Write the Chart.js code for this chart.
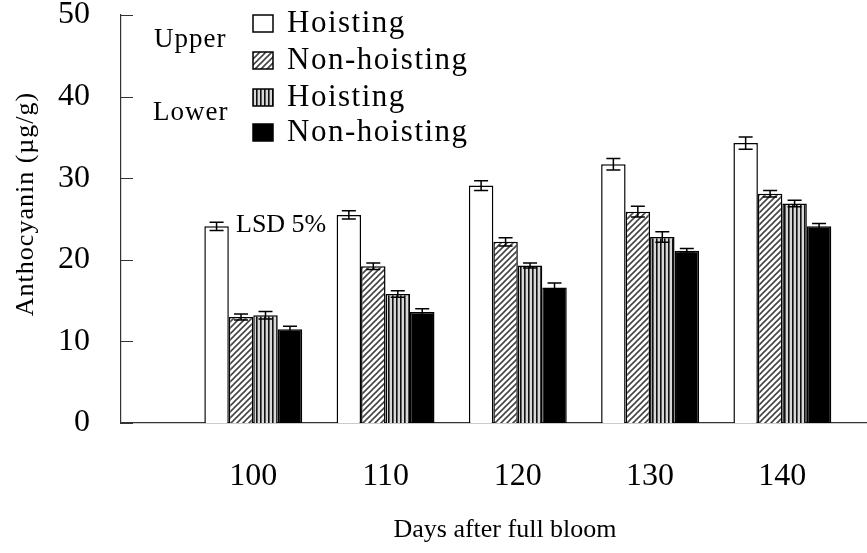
<!DOCTYPE html>
<html>
<head>
<meta charset="utf-8">
<title>Anthocyanin</title>
<script src="https://cdn.jsdelivr.net/npm/chart.js@4.4.0/dist/chart.umd.min.js"></script>
<style>
    html, body { margin: 0; padding: 0; background: #fff; }
    #chart { display: block; }
</style>
</head>
<body>
<canvas id="chart" width="867" height="553"></canvas>
<script>
// Дані
const days = [100, 110, 120, 130, 140];

const upperHoist = [24.1, 25.5, 29.1, 31.7, 34.3];
const upperNon = [13.0, 19.2, 22.2, 25.9, 28.1];
const lowerHoist = [13.2, 15.8, 19.3, 22.8, 26.9];
const lowerNon = [11.5, 13.6, 16.6, 21.1, 24.1];

// LSD 5% (половина довжини планки)
const upperHoistErr = [0.5, 0.5, 0.6, 0.7, 0.75];
const upperNonErr = [0.37, 0.4, 0.5, 0.65, 0.4];
const lowerHoistErr = [0.45, 0.4, 0.3, 0.65, 0.4];
const lowerNonErr = [0.35, 0.4, 0.55, 0.3, 0.35];

const yTicks = [0, 10, 20, 30, 40, 50];
const seriesNames = ['Hoisting', 'Non-hoisting', 'Hoisting', 'Non-hoisting'];
const groupNames = ['Upper', 'Lower'];

const SERIF = '"Liberation Serif", "DejaVu Serif", serif';

document.addEventListener('DOMContentLoaded', () => {
    const ctx = document.getElementById('chart').getContext('2d');

    function makeHatch() {
        const c = document.createElement('canvas');
        c.width = 6; c.height = 6;
        const g = c.getContext('2d');
        g.fillStyle = '#fff';
        g.fillRect(0, 0, 6, 6);
        g.strokeStyle = '#444';
        g.lineWidth = 1.6;
        g.beginPath();
        g.moveTo(-1, 7); g.lineTo(7, -1);
        g.moveTo(-1, 1); g.lineTo(1, -1);
        g.moveTo(5, 7); g.lineTo(7, 5);
        g.stroke();
        return ctx.createPattern(c, 'repeat');
    }

    function makeStripes() {
        const c = document.createElement('canvas');
        c.width = 4; c.height = 4;
        const g = c.getContext('2d');
        g.fillStyle = '#d8d8d8';
        g.fillRect(0, 0, 4, 4);
        g.fillStyle = '#111';
        g.fillRect(0, 0, 1.6, 4);
        return ctx.createPattern(c, 'repeat');
    }

    const hatch = makeHatch();
    const stripes = makeStripes();
    const fills = ['#fff', hatch, stripes, '#000'];
    const allValues = [upperHoist, upperNon, lowerHoist, lowerNon];
    const allErrors = [upperHoistErr, upperNonErr, lowerHoistErr, lowerNonErr];

    const datasets = allValues.map((vals, i) => ({
        label: seriesNames[i],
        data: days.map((d, j) => ({ x: d, y: vals[j] })),
        backgroundColor: fills[i],
        borderColor: '#000',
        borderWidth: 1.5,
        categoryPercentage: 0.74,
        barPercentage: 1.0,
        errors: allErrors[i]
    }));

    // планки похибок
    const errorBars = {
        id: 'errorBars',
        afterDatasetsDraw(chart) {
            const c = chart.ctx;
            const y = chart.scales.y;
            c.save();
            c.strokeStyle = '#000';
            c.lineWidth = 1.5;
            chart.data.datasets.forEach((ds, i) => {
                const meta = chart.getDatasetMeta(i);
                meta.data.forEach((bar, j) => {
                    const v = ds.data[j].y;
                    const e = ds.errors[j];
                    const top = y.getPixelForValue(v + e);
                    const bot = y.getPixelForValue(v - e);
                    const cap = 7;
                    c.beginPath();
                    c.moveTo(bar.x, top); c.lineTo(bar.x, bot);
                    c.moveTo(bar.x - cap, top); c.lineTo(bar.x + cap, top);
                    c.moveTo(bar.x - cap, bot); c.lineTo(bar.x + cap, bot);
                    c.stroke();
                });
            });
            c.restore();
        }
    };

    // підписи, легенда, внутрішні штрихи осі
    const decorations = {
        id: 'decorations',
        afterDraw(chart) {
            const c = chart.ctx;
            const area = chart.chartArea;
            const y = chart.scales.y;
            c.save();

            c.strokeStyle = '#333';
            c.lineWidth = 1.2;
            c.beginPath();
            yTicks.forEach(t => {
                const py = Math.round(y.getPixelForValue(t)) + 0.5;
                c.moveTo(area.left, py);
                c.lineTo(area.left + 12, py);
            });
            c.stroke();

            c.fillStyle = '#000';
            c.textBaseline = 'middle';

            // назва осі X
            c.font = '26px ' + SERIF;
            c.textAlign = 'center';
            c.fillText('Days after full bloom', 505, 530);

            // назва осі Y
            c.save();
            c.translate(26, 204);
            c.rotate(-Math.PI / 2);
            c.font = '26px ' + SERIF;
            c.letterSpacing = '1px';
            c.fillText('Anthocyanin (\u00b5g/g)', 0, 0);
            c.restore();

            // LSD
            c.font = '26px ' + SERIF;
            c.textAlign = 'left';
            c.fillText('LSD 5%', 236, 225);

            // легенда
            const rows = [23, 60, 97, 132];
            c.font = '31px ' + SERIF;
            c.letterSpacing = '1.5px';
            rows.forEach((ry, i) => {
                c.fillStyle = fills[i];
                c.fillRect(253, ry - 8, 20, 17);
                c.strokeStyle = '#000';
                c.lineWidth = 1.5;
                c.strokeRect(253, ry - 8, 20, 17);
                c.fillStyle = '#000';
                c.fillText(seriesNames[i], 287, ry + 1);
            });
            c.font = '27px ' + SERIF;
            c.letterSpacing = '1px';
            c.fillText(groupNames[0], 154, 40);
            c.fillText(groupNames[1], 153, 113);
            c.restore();
        }
    };

    new Chart(ctx, {
        type: 'bar',
        data: { datasets },
        options: {
            responsive: false,
            animation: false,
            layout: { padding: { top: 15, right: 0, left: 0, bottom: 0 } },
            plugins: { legend: { display: false }, tooltip: { enabled: false } },
            scales: {
                x: {
                    type: 'linear',
                    offset: false,
                    min: 90,
                    max: 146.4,
                    grid: { display: false, drawTicks: false },
                    border: { display: true, color: '#333', width: 1.2 },
                    afterBuildTicks: scale => { scale.ticks = days.map(v => ({ value: v })); },
                    afterFit: scale => { scale.height = 130; scale.paddingLeft = 0; scale.paddingRight = 0; },
                    ticks: {
                        padding: 34,
                        color: '#000',
                        font: { family: SERIF, size: 32, lineHeight: 1.2 },
                        maxRotation: 0
                    }
                },
                y: {
                    min: 0,
                    max: 50,
                    grid: { display: false, drawTicks: false },
                    border: { display: true, color: '#333', width: 1.2 },
                    afterBuildTicks: scale => { scale.ticks = yTicks.map(v => ({ value: v })); },
                    afterFit: scale => { scale.width = 121; scale.paddingTop = 15; scale.paddingBottom = 0; },
                    ticks: {
                        padding: 31,
                        color: '#000',
                        font: { family: SERIF, size: 32, lineHeight: 0.9 }
                    }
                }
            }
        },
        plugins: [errorBars, decorations]
    });
});
</script>
</body>
</html>
